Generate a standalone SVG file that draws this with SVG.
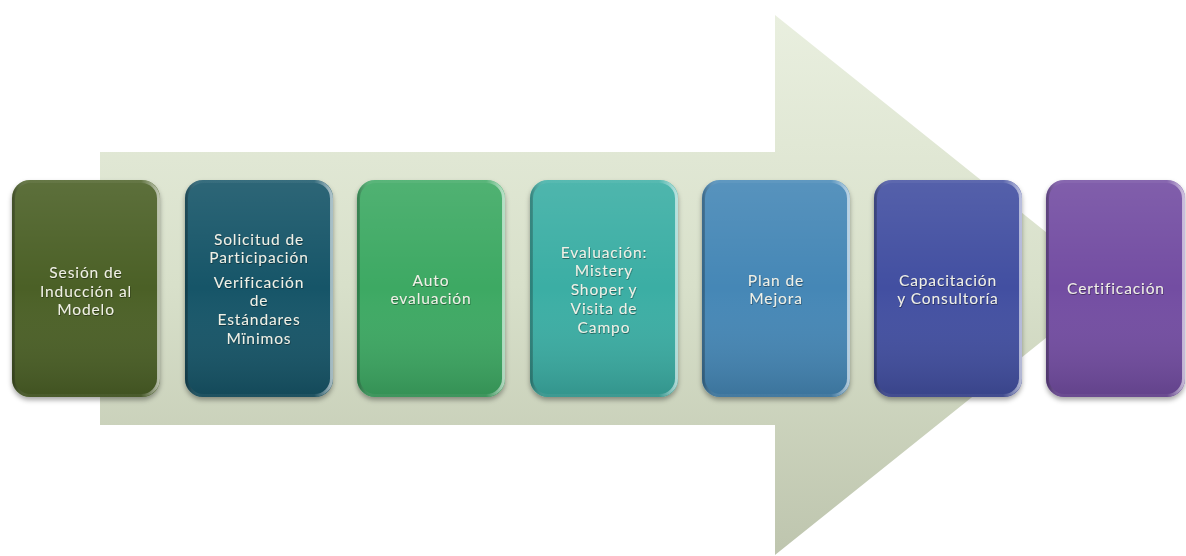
<svg xmlns="http://www.w3.org/2000/svg" width="1186" height="556" viewBox="0 0 1186 556">
<defs>
<linearGradient id="arrowG" x1="0" y1="0" x2="0" y2="1">
<stop offset="0" stop-color="#e9efdf"/>
<stop offset="0.5" stop-color="#d8e0ca"/>
<stop offset="1" stop-color="#bec5ae"/>
</linearGradient>
<linearGradient id="rim" x1="0" y1="0" x2="1" y2="0">
<stop offset="0" stop-color="#000" stop-opacity="0.25"/>
<stop offset="0.1" stop-color="#fff" stop-opacity="0.05"/>
<stop offset="0.88" stop-color="#fff" stop-opacity="0.05"/>
<stop offset="1" stop-color="#fff" stop-opacity="0.6"/>
</linearGradient>
<linearGradient id="shade" x1="0" y1="0" x2="0" y2="1">
<stop offset="0" stop-color="#fff" stop-opacity="0.1"/>
<stop offset="0.5" stop-color="#fff" stop-opacity="0"/>
<stop offset="1" stop-color="#000" stop-opacity="0.15"/>
</linearGradient>
<filter id="sh" x="-10%" y="-10%" width="120%" height="125%">
<feDropShadow dx="0" dy="3" stdDeviation="2.5" flood-color="#000" flood-opacity="0.35"/>
</filter>
<filter id="tsh" x="-10%" y="-20%" width="120%" height="140%">
<feDropShadow dx="0.5" dy="1" stdDeviation="0.6" flood-color="#000" flood-opacity="0.4"/>
</filter>
</defs>
<style>
.box{filter:url(#sh)}
.ov{fill:url(#shade)}
.rim{fill:none;stroke:url(#rim);stroke-width:3}
.t{font-family:Lato,"Open Sans",sans-serif;font-size:15.5px;letter-spacing:0.9px;fill:#f0f0e6;text-anchor:middle;filter:url(#tsh)}
</style>
<polygon id="arrow" points="100,152 775,152 775,15 1112,285 775,555 775,425 100,425" fill="url(#arrowG)"/>
<g id="connectors"></g>
<g id="n1">
<rect class="box" x="12" y="180" width="148" height="217" rx="18" fill="#4b6126"/>
<rect class="ov" x="12" y="180" width="148" height="217" rx="18"/>
<rect class="rim" x="13.5" y="181.5" width="145" height="214" rx="17"/>
<text class="t"><tspan x="86" y="277.5">Sesión de</tspan><tspan x="86" y="296.5">Inducción al</tspan><tspan x="86" y="315.3">Modelo</tspan></text>
</g>
<g id="n2">
<rect class="box" x="185" y="180" width="148" height="217" rx="18" fill="#175467"/>
<rect class="ov" x="185" y="180" width="148" height="217" rx="18"/>
<rect class="rim" x="186.5" y="181.5" width="145" height="214" rx="17"/>
<text class="t"><tspan x="259" y="244.5">Solicitud de</tspan><tspan x="259" y="263.3">Participación</tspan><tspan x="259" y="287.5">Verificación</tspan><tspan x="259" y="306.3">de</tspan><tspan x="259" y="325.1">Estándares</tspan><tspan x="259" y="343.9">Mïnimos</tspan></text>
</g>
<g id="n3">
<rect class="box" x="357" y="180" width="148" height="217" rx="18" fill="#3ca964"/>
<rect class="ov" x="357" y="180" width="148" height="217" rx="18"/>
<rect class="rim" x="358.5" y="181.5" width="145" height="214" rx="17"/>
<text class="t"><tspan x="431" y="285.5">Auto</tspan><tspan x="431" y="304.3">evaluación</tspan></text>
</g>
<g id="n4">
<rect class="box" x="530" y="180" width="148" height="217" rx="18" fill="#3aaea4"/>
<rect class="ov" x="530" y="180" width="148" height="217" rx="18"/>
<rect class="rim" x="531.5" y="181.5" width="145" height="214" rx="17"/>
<text class="t"><tspan x="604" y="257.5">Evaluación:</tspan><tspan x="604" y="276.3">Mistery</tspan><tspan x="604" y="295.1">Shoper y</tspan><tspan x="604" y="313.9">Visita de</tspan><tspan x="604" y="332.7">Campo</tspan></text>
</g>
<g id="n5">
<rect class="box" x="702" y="180" width="148" height="217" rx="18" fill="#4587b6"/>
<rect class="ov" x="702" y="180" width="148" height="217" rx="18"/>
<rect class="rim" x="703.5" y="181.5" width="145" height="214" rx="17"/>
<text class="t"><tspan x="776" y="285.5">Plan de</tspan><tspan x="776" y="304.3">Mejora</tspan></text>
</g>
<g id="n6">
<rect class="box" x="874" y="180" width="148" height="217" rx="18" fill="#434fa1"/>
<rect class="ov" x="874" y="180" width="148" height="217" rx="18"/>
<rect class="rim" x="875.5" y="181.5" width="145" height="214" rx="17"/>
<text class="t"><tspan x="948" y="285.5">Capacitación</tspan><tspan x="948" y="304.3">y Consultoría</tspan></text>
</g>
<g id="n7">
<rect class="box" x="1046" y="180" width="139" height="217" rx="18" fill="#734ea2"/>
<rect class="ov" x="1046" y="180" width="139" height="217" rx="18"/>
<rect class="rim" x="1047.5" y="181.5" width="136" height="214" rx="17"/>
<text class="t"><tspan x="1116" y="293.5">Certificación</tspan></text>
</g>
</svg>
